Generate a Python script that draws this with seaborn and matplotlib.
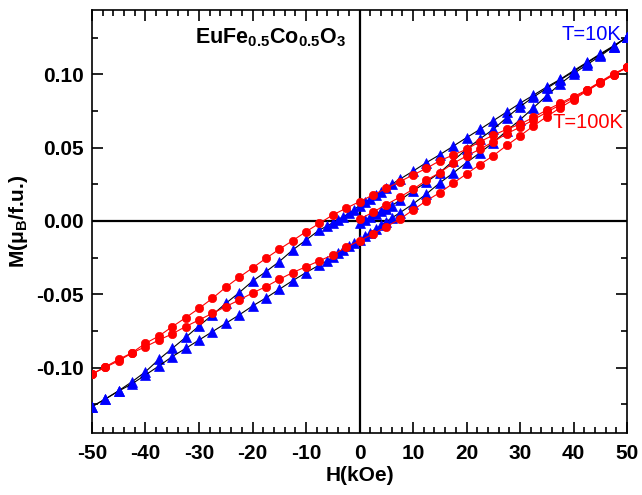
import matplotlib
matplotlib.use("Agg")
import matplotlib.pyplot as plt
import seaborn as sns
import pandas as pd
from matplotlib.ticker import MultipleLocator, FormatStrFormatter

sns.set_theme(style="white")
plt.rcParams["font.family"] = ["Liberation Sans", "DejaVu Sans"]
plt.rcParams["mathtext.fontset"] = "custom"
plt.rcParams["mathtext.rm"] = "Liberation Sans"
plt.rcParams["mathtext.bf"] = "Liberation Sans:bold"
plt.rcParams["mathtext.it"] = "Liberation Sans:italic"
plt.rcParams["axes.unicode_minus"] = False
for key in ["text.color", "axes.labelcolor", "xtick.color", "ytick.color", "axes.edgecolor"]:
    plt.rcParams[key] = "black"

# ---------------- data (H in kOe, M in muB/f.u.) ----------------
# T = 10 K
h_down_10K = [50, 47.5, 45, 42.5, 40, 37.5, 35, 32.5, 30, 27.5, 25, 22.5, 20, 17.5, 15, 12.5, 10, 7.5,
              6, 5, 4, 3, 2, 1, 0, -1, -2, -3, -4, -5, -6,
              -7.5, -10, -12.5, -15, -17.5, -20, -22.5, -25, -27.5, -30, -32.5, -35, -37.5, -40, -42.5, -45, -47.5, -50]
m_down_10K = [0.1255, 0.1195, 0.1140, 0.1082, 0.1025, 0.0966, 0.0914, 0.0858, 0.0803, 0.0743, 0.0684, 0.0625,
              0.0568, 0.0510, 0.0452, 0.0398, 0.0340, 0.0284,
              0.0250, 0.0225, 0.0200, 0.0175, 0.0150, 0.0128, 0.0105, 0.0078, 0.0052, 0.0030, 0.0010, -0.0011, -0.0034,
              -0.0061, -0.0130, -0.0198, -0.0277, -0.0346, -0.0410, -0.0489, -0.0562, -0.0641, -0.0716, -0.0794,
              -0.0869, -0.0944, -0.1028, -0.1096, -0.1157, -0.1214, -0.1266]
h_up_10K = h_down_10K[::-1]
m_up_10K = [-0.1266, -0.1214, -0.1160, -0.1110, -0.1050, -0.0989, -0.0925, -0.0869, -0.0812, -0.0755, -0.0698,
            -0.0641, -0.0580, -0.0525, -0.0466, -0.0407, -0.0352, -0.0300,
            -0.0271, -0.0245, -0.0220, -0.0195, -0.0172, -0.0152, -0.0130, -0.0105, -0.0080, -0.0055, -0.0030,
            -0.0005, 0.0020,
            0.0055, 0.0116, 0.0184, 0.0260, 0.0327, 0.0398, 0.0465, 0.0535, 0.0615, 0.0690, 0.0772, 0.0855,
            0.0935, 0.1005, 0.1066, 0.1125, 0.1190, 0.1255]
h_virgin_10K = [0, 1, 2, 3, 4, 5, 6, 7.5, 10, 12.5, 15, 17.5, 20, 22.5, 25, 27.5, 30, 32.5, 35, 37.5, 40, 42.5,
                45, 47.5, 50]
m_virgin_10K = [-0.0015, 0.0005, 0.0025, 0.0045, 0.0065, 0.0085, 0.0105, 0.0140, 0.0205, 0.0265, 0.0330, 0.0410,
                0.0490, 0.0560, 0.0625, 0.0705, 0.0780, 0.0845, 0.0905, 0.0962, 0.1018, 0.1078, 0.1135, 0.1190,
                0.1255]

# T = 100 K
h_down_100K = [50, 47.5, 45, 42.5, 40, 37.5, 35, 32.5, 30, 27.5, 25, 22.5, 20, 17.5, 15, 12.5, 10, 7.5, 5, 2.5, 0,
               -2.5, -5, -7.5, -10, -12.5, -15, -17.5, -20, -22.5, -25, -27.5, -30, -32.5, -35, -37.5, -40, -42.5,
               -45, -47.5, -50]
m_down_100K = [0.1048, 0.1005, 0.0950, 0.0894, 0.0848, 0.0803, 0.0757, 0.0707, 0.0660, 0.0625, 0.0585, 0.0541,
               0.0489, 0.0450, 0.0411, 0.0359, 0.0314, 0.0268, 0.0223, 0.0177, 0.0132,
               0.0087, 0.0041, -0.0016, -0.0073, -0.0134, -0.0193, -0.0255, -0.0320, -0.0384, -0.0452, -0.0528,
               -0.0596, -0.0660, -0.0721, -0.0785, -0.0834, -0.0898, -0.0944, -0.0994, -0.1044]
h_up_100K = h_down_100K[::-1]
m_up_100K = [-0.1044, -0.0998, -0.0953, -0.0900, -0.0857, -0.0812, -0.0770, -0.0720, -0.0675, -0.0630, -0.0584,
             -0.0539, -0.0491, -0.0448, -0.0398, -0.0352, -0.0312, -0.0271, -0.0232, -0.0180, -0.0134,
             -0.0089, -0.0039, 0.0012, 0.0075, 0.0138, 0.0193, 0.0257, 0.0321, 0.0385, 0.0445, 0.0515, 0.0580,
             0.0648, 0.0712, 0.0772, 0.0828, 0.0886, 0.0942, 0.0996, 0.1048]
h_virgin_100K = [0, 2.5, 5, 7.5, 10, 12.5, 15, 17.5, 20, 22.5, 25, 27.5, 30, 32.5, 35, 37.5, 40, 42.5, 45, 47.5, 50]
m_virgin_100K = [0.0012, 0.0060, 0.0112, 0.0162, 0.0216, 0.0278, 0.0330, 0.0393, 0.0443, 0.0490, 0.0540, 0.0595,
                 0.0640, 0.0690, 0.0742, 0.0792, 0.0840, 0.0890, 0.0946, 0.0998, 0.1048]

x_ticks = [-50, -40, -30, -20, -10, 0, 10, 20, 30, 40, 50]
y_ticks = [-0.10, -0.05, 0.00, 0.05, 0.10]


def branches(parts):
    frames = []
    for name, h, m in parts:
        frames.append(pd.DataFrame({"H": h, "M": m, "branch": name}))
    return pd.concat(frames, ignore_index=True)


df10 = branches([("virgin", h_virgin_10K, m_virgin_10K),
                 ("down", h_down_10K, m_down_10K),
                 ("up", h_up_10K, m_up_10K)])
df100 = branches([("virgin", h_virgin_100K, m_virgin_100K),
                  ("down", h_down_100K, m_down_100K),
                  ("up", h_up_100K, m_up_100K)])

# ---------------- figure ----------------
fig = plt.figure(figsize=(6.42, 4.95), dpi=100)
ax = fig.add_axes([92 / 642, 1 - 433 / 495, 535 / 642, 423 / 495])

ax.axhline(0, color="black", lw=1.6, zorder=1)
ax.axvline(0, color="black", lw=1.6, zorder=1)

sns.lineplot(data=df10, x="H", y="M", units="branch", estimator=None, sort=False,
             color="black", lw=0.8, marker="^", markersize=6.8,
             markerfacecolor="#0000ff", markeredgecolor="#0000ff", markeredgewidth=0.5,
             ax=ax, zorder=3, legend=False)
sns.lineplot(data=df100, x="H", y="M", units="branch", estimator=None, sort=False,
             color="#ff0000", lw=0.8, marker="o", markersize=6.0,
             markerfacecolor="#ff0000", markeredgecolor="#ff0000", markeredgewidth=0.5,
             ax=ax, zorder=4, legend=False)

ax.set_xlim(-50, 50)
ax.set_ylim(-0.1446, 0.1439)
ax.xaxis.set_major_locator(MultipleLocator(10))
ax.xaxis.set_minor_locator(MultipleLocator(2))
ax.yaxis.set_major_locator(MultipleLocator(0.05))
ax.yaxis.set_minor_locator(MultipleLocator(0.025))
ax.set_xticks(x_ticks)
ax.set_yticks(y_ticks)
ax.yaxis.set_major_formatter(FormatStrFormatter("%.2f"))

ax.tick_params(which="both", direction="in", top=True, right=True, bottom=True, left=True,
               color="black", width=1.2)
ax.tick_params(which="major", length=8)
ax.tick_params(which="minor", length=4.5)
ax.tick_params(axis="x", which="major", pad=8, labelsize=15, labelcolor="black")
ax.tick_params(axis="y", which="major", pad=6, labelsize=15, labelcolor="black")
for lab in ax.get_xticklabels() + ax.get_yticklabels():
    lab.set_fontweight("bold")

for sp in ax.spines.values():
    sp.set_color("black")
    sp.set_linewidth(1.2)

ax.set_xlabel("H(kOe)", fontsize=15, fontweight="bold", labelpad=2, color="black")
ax.set_ylabel(r"M(μ$_{\mathbf{B}}$/f.u.)", fontsize=15, fontweight="bold", labelpad=4, color="black")

ax.text(-30.7, 0.1214, r"EuFe$_{\mathbf{0.5}}$Co$_{\mathbf{0.5}}$O$_{\mathbf{3}}$",
        fontsize=15.5, fontweight="bold", ha="left", va="baseline", color="black")
ax.text(37.8, 0.1235, "T=10K", color="#0000ff", fontsize=14.5, ha="left", va="baseline")
ax.text(36.0, 0.0632, "T=100K", color="#ff0000", fontsize=14.5, ha="left", va="baseline")

fig.savefig("out.png", dpi=100)
